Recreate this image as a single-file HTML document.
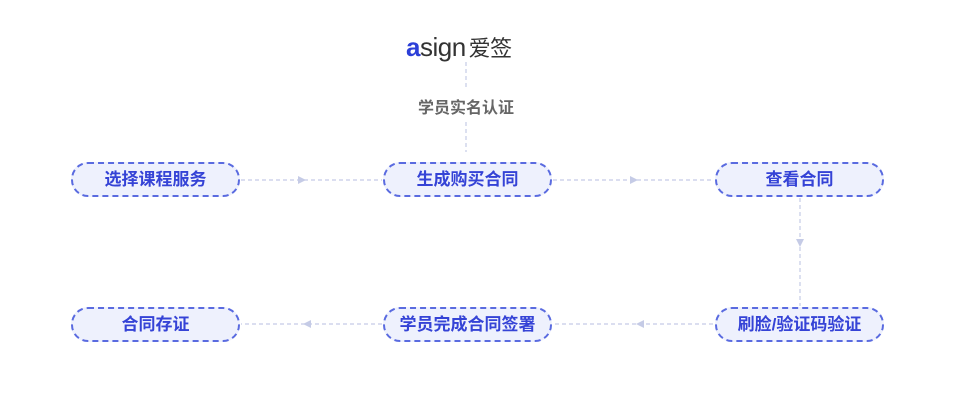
<!DOCTYPE html>
<html><head><meta charset="utf-8"><style>
body{margin:0;width:960px;height:402px;background:#fff;position:relative;overflow:hidden;font-family:"Liberation Sans","Noto Sans CJK SC",sans-serif}
.b{position:absolute;width:165px;height:31px;border:2px dashed #5a6be0;border-radius:17px;background:#eef1fd;color:#3543d6;font-weight:bold;font-size:17px;line-height:31px;text-align:center}
svg{position:absolute;left:0;top:0}
</style></head><body>
<svg width="960" height="402">
<g stroke="#c5cbe6" stroke-width="1.2" stroke-dasharray="4 3" fill="none">
<line x1="466" y1="62" x2="466" y2="90"/>
<line x1="466" y1="122" x2="466" y2="152"/>
<line x1="241" y1="180" x2="382" y2="180"/>
<line x1="553" y1="180" x2="713" y2="180"/>
<line x1="800" y1="198" x2="800" y2="306"/>
<line x1="713" y1="324" x2="553" y2="324"/>
<line x1="382" y1="324" x2="241" y2="324"/>
</g>
<g fill="#c5cbe6">
<polygon points="298,176 306,180 298,184"/>
<polygon points="630,176 638,180 630,184"/>
<polygon points="796,239 804,239 800,247"/>
<polygon points="644,320 636,324 644,328"/>
<polygon points="311,320 303,324 311,328"/>
</g>
</svg>
<div style="position:absolute;left:406px;top:31px;font-size:26px;color:#333;letter-spacing:-0.5px"><span style="color:#2c3fd8;font-weight:bold">a</span>sign<span style="font-size:22px;margin-left:3px">爱签</span></div>
<div style="position:absolute;left:406px;top:94px;width:120px;text-align:center;font-size:16px;font-weight:bold;color:#666">学员实名认证</div>
<div class="b" style="left:71px;top:162px">选择课程服务</div>
<div class="b" style="left:383px;top:162px">生成购买合同</div>
<div class="b" style="left:715px;top:162px">查看合同</div>
<div class="b" style="left:715px;top:307px">刷脸/验证码验证</div>
<div class="b" style="left:383px;top:307px">学员完成合同签署</div>
<div class="b" style="left:71px;top:307px">合同存证</div>
</body></html>
